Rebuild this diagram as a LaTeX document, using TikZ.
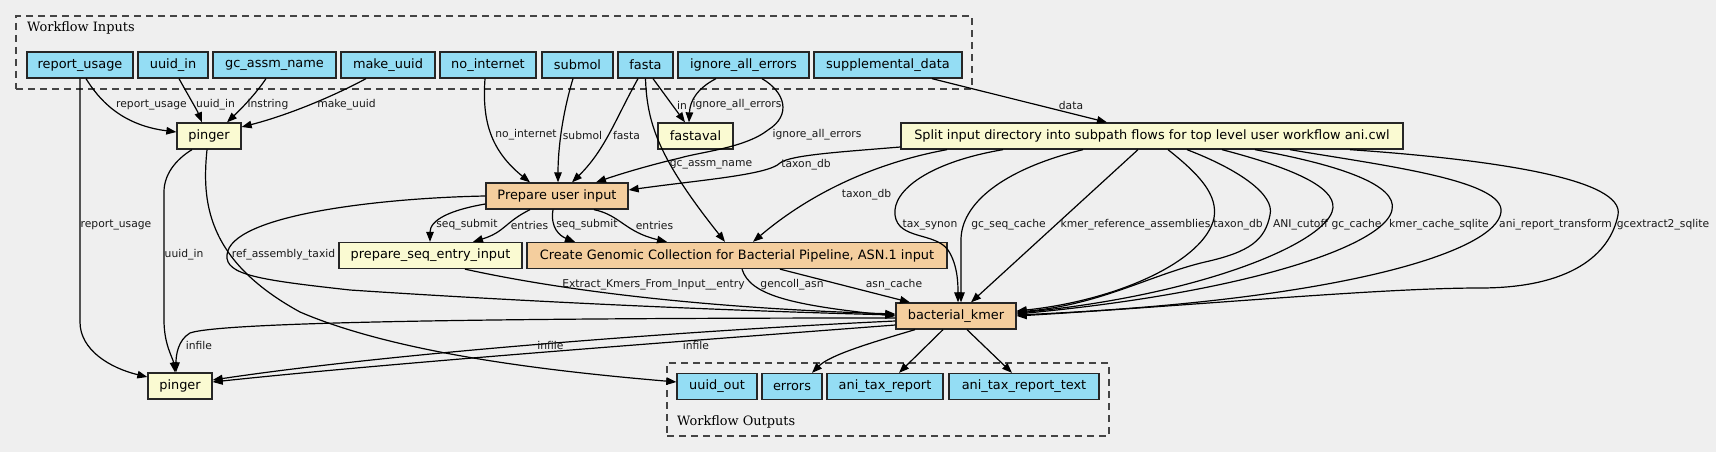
\documentclass[tikz,border=0pt]{standalone}
\usepackage{fontspec}
\setmainfont{DejaVu Sans}
\newfontfamily\serifft{DejaVu Serif}
\usetikzlibrary{arrows.meta}
\definecolor{bgc}{RGB}{239,239,239}
\definecolor{inpc}{RGB}{148,221,244}
\definecolor{ylwc}{RGB}{250,250,210}
\definecolor{orgc}{RGB}{244,206,158}
\definecolor{clc}{RGB}{68,68,68}
\begin{document}
\begin{tikzpicture}[x=1pt,y=-1pt,
 box/.style={draw=black!85, line width=1.3pt, inner sep=0pt, minimum height=26pt, font=\fontsize{12.9}{15}\selectfont, text=black},
 inbox/.style={box, fill=inpc},
 ybox/.style={box, fill=ylwc},
 obox/.style={box, fill=orgc},
 cluster/.style={draw=clc, dash pattern=on 7pt off 5pt, line width=1.3pt, inner sep=0pt},
 ctitle/.style={font=\serifft\fontsize{12.9}{15}\selectfont, anchor=west, inner sep=0pt},
 lab/.style={font=\fontsize{10.75}{12}\selectfont, inner sep=0pt, text=black!90},
 conn/.style={draw=black, line width=1.2pt, -{Triangle[length=10pt,width=7.5pt]}},
]
\fill[bgc] (0,0) rectangle (1716,452);
\useasboundingbox (0,0) rectangle (1716,452);

% clusters
\node[cluster, minimum width=956pt, minimum height=73pt] (incl) at (494,52.5) {};
\node[ctitle] (intitle) at (27,28) {Workflow Inputs};
\node[cluster, minimum width=442pt, minimum height=73pt] (outcl) at (888,399.5) {};
\node[ctitle] (outtitle) at (677,422) {Workflow Outputs};

% inputs
\node[inbox, minimum width=106pt] (report_usage) at (80,65) {report\_usage};
\node[inbox, minimum width=70pt] (uuid_in) at (173,65) {uuid\_in};
\node[inbox, minimum width=123pt] (gc_assm_name) at (274.5,65) {gc\_assm\_name};
\node[inbox, minimum width=94pt] (make_uuid) at (388,65) {make\_uuid};
\node[inbox, minimum width=96pt] (no_internet) at (488,65) {no\_internet};
\node[inbox, minimum width=71pt] (submol) at (577.5,65) {submol};
\node[inbox, minimum width=55pt] (fasta) at (645.5,65) {fasta};
\node[inbox, minimum width=131pt] (ignore) at (743.5,65) {ignore\_all\_errors};
\node[inbox, minimum width=148pt] (supp) at (888,65) {supplemental\_data};

% steps
\node[ybox, minimum width=64pt] (pinger1) at (209,136) {pinger};
\node[ybox, minimum width=75pt] (fastaval) at (695.5,136) {fastaval};
\node[ybox, minimum width=502pt] (split) at (1152,136) {Split input directory into subpath flows for top level user workflow ani.cwl};
\node[obox, minimum width=142pt] (prep) at (557,196) {Prepare user input};
\node[ybox, minimum width=183pt] (prepseq) at (430.5,255.5) {prepare\_seq\_entry\_input};
\node[obox, minimum width=420pt] (creategc) at (737,255.5) {Create Genomic Collection for Bacterial Pipeline, ASN.1 input};
\node[obox, minimum width=120pt] (bkmer) at (956,316) {bacterial\_kmer};
\node[ybox, minimum width=64pt] (pinger2) at (180,386) {pinger};

% outputs
\node[inbox, minimum width=80pt] (uuid_out) at (717,386.5) {uuid\_out};
\node[inbox, minimum width=60pt] (errors) at (792,386.5) {errors};
\node[inbox, minimum width=116pt] (atr) at (885,386.5) {ani\_tax\_report};
\node[inbox, minimum width=150pt] (atrt) at (1024,386.5) {ani\_tax\_report\_text};

% edges into pinger1
\draw[conn] (report_usage.south -| 86,0) .. controls (98,98) and (120,125) .. (pinger1.west |- 0,132)
  node[lab, at={(151.5,105)}] {report\_usage};
\draw[conn] (uuid_in.south -| 179,0) .. controls (188,95) and (197,110) .. (pinger1.north -| 202,0)
  node[lab, at={(215.5,105)}] {uuid\_in};
\draw[conn] (gc_assm_name.south -| 266,0) .. controls (255,95) and (240,110) .. (pinger1.north -| 227,0)
  node[lab, at={(268,105)}] {instring};
\draw[conn] (make_uuid.south -| 366,0) .. controls (330,98) and (285,116) .. (pinger1.east |- 0,127)
  node[lab, at={(346.5,105)}] {make\_uuid};

% into pinger2
\draw[conn] (report_usage.south) -- (80,322) .. controls (80,350) and (110,368) .. (pinger2.west |- 0,377)
  node[lab, at={(116,225)}] {report\_usage};
\draw[conn] (pinger1.south -| 192,0) .. controls (175,160) and (164,175) .. (164,192) -- (164,320)
  .. controls (164,345) and (173,358) .. (pinger2.north -| 175,0)
  node[lab, at={(184,255)}] {uuid\_in};
\draw[conn] (pinger1.south -| 207,0) .. controls (202,200) and (205,260) .. (300,312)
  .. controls (400,355) and (560,372) .. (uuid_out.west |- 0,382);

% into prepare user input
\draw[conn] (no_internet.south -| 485,0) .. controls (482,120) and (490,150) .. (prep.north -| 530,0)
  node[lab, at={(526,135)}] {no\_internet};
\draw[conn] (submol.south -| 573,0) .. controls (562,115) and (558,150) .. (prep.north -| 558,0)
  node[lab, at={(582.5,135)}] {submol};
\draw[conn] (fasta.south -| 638,0) .. controls (615,120) and (605,150) .. (prep.north -| 572,0)
  node[lab, at={(626.5,135)}] {fasta};
\draw[conn] (fasta.south -| 653,0) -- (fastaval.north -| 685,0)
  node[lab, at={(682,105)}] {in};
\draw[conn] (ignore.south -| 716,0) .. controls (698,88) and (690,100) .. (fastaval.north -| 689,0)
  node[lab, at={(737,105)}] {ignore\_all\_errors};
\draw[conn] (ignore.south -| 762,0) .. controls (785,92) and (792,115) .. (768,130)
  .. controls (745,148) and (700,152) .. (680,158) .. controls (650,165) and (620,174) .. (prep.north -| 596,0)
  node[lab, at={(817,135)}] {ignore\_all\_errors};
\draw[conn] (fasta.south) .. controls (647,125) and (660,160) .. (creategc.north -| 725,0)
  node[lab, at={(711,165)}] {gc\_assm\_name};
\draw[conn] (split.west |- 0,147) .. controls (840,152) and (790,155) .. (780,163)
  .. controls (768,175) and (700,180) .. (prep.east |- 0,190)
  node[lab, at={(806,165)}] {taxon\_db};
\draw[conn] (supp.south -| 932,0) -- (split.north -| 1107,0)
  node[lab, at={(1071,105)}] {data};
\draw[conn] (split.south -| 947,0) .. controls (890,160) and (820,185) .. (creategc.north -| 753,0)
  node[lab, at={(866.5,195)}] {taxon\_db};

% split to bacterial_kmer
\draw[conn] (split.south -| 1003,0) .. controls (930,162) and (892,190) .. (895,215)
  .. controls (898,240) and (935,232) .. (948,250) .. controls (958,265) and (958,285) .. (bkmer.north -| 958,0)
  node[lab, at={(930,225)}] {tax\_synon};
\draw[conn] (split.south -| 1083,0) .. controls (1000,170) and (961,205) .. (961,240) -- (bkmer.north -| 961,0)
  node[lab, at={(1008.5,225)}] {gc\_seq\_cache};
\draw[conn] (split.south -| 1138,0) -- (bkmer.north -| 971,0)
  node[lab, at={(1135.5,225)}] {kmer\_reference\_assemblies};
\draw[conn] (split.south -| 1168,0) .. controls (1200,175) and (1218,195) .. (1214,218)
  .. controls (1205,260) and (1120,300) .. (bkmer.east |- 0,311)
  node[lab, at={(1238,225)}] {taxon\_db};
\draw[conn] (split.south -| 1187,0) .. controls (1240,170) and (1275,195) .. (1270,215)
  .. controls (1265,240) and (1250,252) .. (1205,262) .. controls (1150,275) and (1100,305) .. (bkmer.east |- 0,312)
  node[lab, at={(1300.5,225)}] {ANI\_cutoff};
\draw[conn] (split.south -| 1222,0) .. controls (1300,170) and (1340,190) .. (1332,212)
  .. controls (1320,245) and (1200,295) .. (bkmer.east |- 0,313)
  node[lab, at={(1356.5,225)}] {gc\_cache};
\draw[conn] (split.south -| 1255,0) .. controls (1340,165) and (1398,185) .. (1392,210)
  .. controls (1385,245) and (1250,292) .. (bkmer.east |- 0,314)
  node[lab, at={(1439,225)}] {kmer\_cache\_sqlite};
\draw[conn] (split.south -| 1290,0) .. controls (1380,165) and (1505,180) .. (1501,212)
  .. controls (1497,250) and (1350,300) .. (bkmer.east |- 0,315)
  node[lab, at={(1555.5,225)}] {ani\_report\_transform};
\draw[conn] (split.south -| 1350,0) .. controls (1500,160) and (1625,180) .. (1618,215)
  .. controls (1610,255) and (1570,288) .. (1480,288) .. controls (1380,288) and (1200,305) .. (bkmer.east |- 0,316)
  node[lab, at={(1663,225)}] {gcextract2\_sqlite};

% prepare user input outputs
\draw[conn] (prep.west |- 0,204) .. controls (450,210) and (430,220) .. (prepseq.north -| 430,0)
  node[lab, at={(467,225)}] {seq\_submit};
\draw[conn] (prep.south -| 530,0) .. controls (505,222) and (505,232) .. (prepseq.north -| 473,0)
  node[lab, at={(529.5,225)}] {entries};
\draw[conn] (prep.south -| 553,0) .. controls (550,228) and (560,236) .. (creategc.north -| 575,0)
  node[lab, at={(587,225)}] {seq\_submit};
\draw[conn] (prep.south -| 594,0) .. controls (620,215) and (625,232) .. (creategc.north -| 667,0)
  node[lab, at={(654.5,225)}] {entries};
\draw[conn] (prep.west) .. controls (380,198) and (230,215) .. (227,255)
  .. controls (225,275) and (260,280) .. (350,290) .. controls (500,300) and (700,310) .. (bkmer.west |- 0,315)
  node[lab, at={(283.5,255)}] {ref\_assembly\_taxid};
\draw[conn] (prepseq.south -| 465,0) .. controls (560,290) and (700,308) .. (bkmer.west |- 0,314)
  node[lab, at={(653.5,285)}] {Extract\_Kmers\_From\_Input\_\_entry};
\draw[conn] (creategc.south -| 742,0) .. controls (750,295) and (790,305) .. (bkmer.west |- 0,316)
  node[lab, at={(792,285)}] {gencoll\_asn};
\draw[conn] (creategc.south -| 780,0) -- (bkmer.north -| 910,0)
  node[lab, at={(894,285)}] {asn\_cache};

% bacterial_kmer outputs
\draw[conn] (bkmer.west |- 0,318) .. controls (500,318) and (220,322) .. (190,333)
  .. controls (178,340) and (176,355) .. (pinger2.north -| 176,0)
  node[lab, at={(199,345)}] {infile};
\draw[conn] (bkmer.west |- 0,321) .. controls (700,330) and (400,352) .. (pinger2.east |- 0,380)
  node[lab, at={(550.5,345)}] {infile};
\draw[conn] (bkmer.west |- 0,325) .. controls (700,340) and (400,362) .. (pinger2.east |- 0,382)
  node[lab, at={(696,345)}] {infile};
\draw[conn] (bkmer.south -| 915,0) .. controls (870,343) and (830,355) .. (errors.north -| 812,0);
\draw[conn] (bkmer.south -| 943,0) -- (atr.north -| 899,0);
\draw[conn] (bkmer.south -| 967,0) -- (atrt.north -| 1012,0);
\end{tikzpicture}
\end{document}
